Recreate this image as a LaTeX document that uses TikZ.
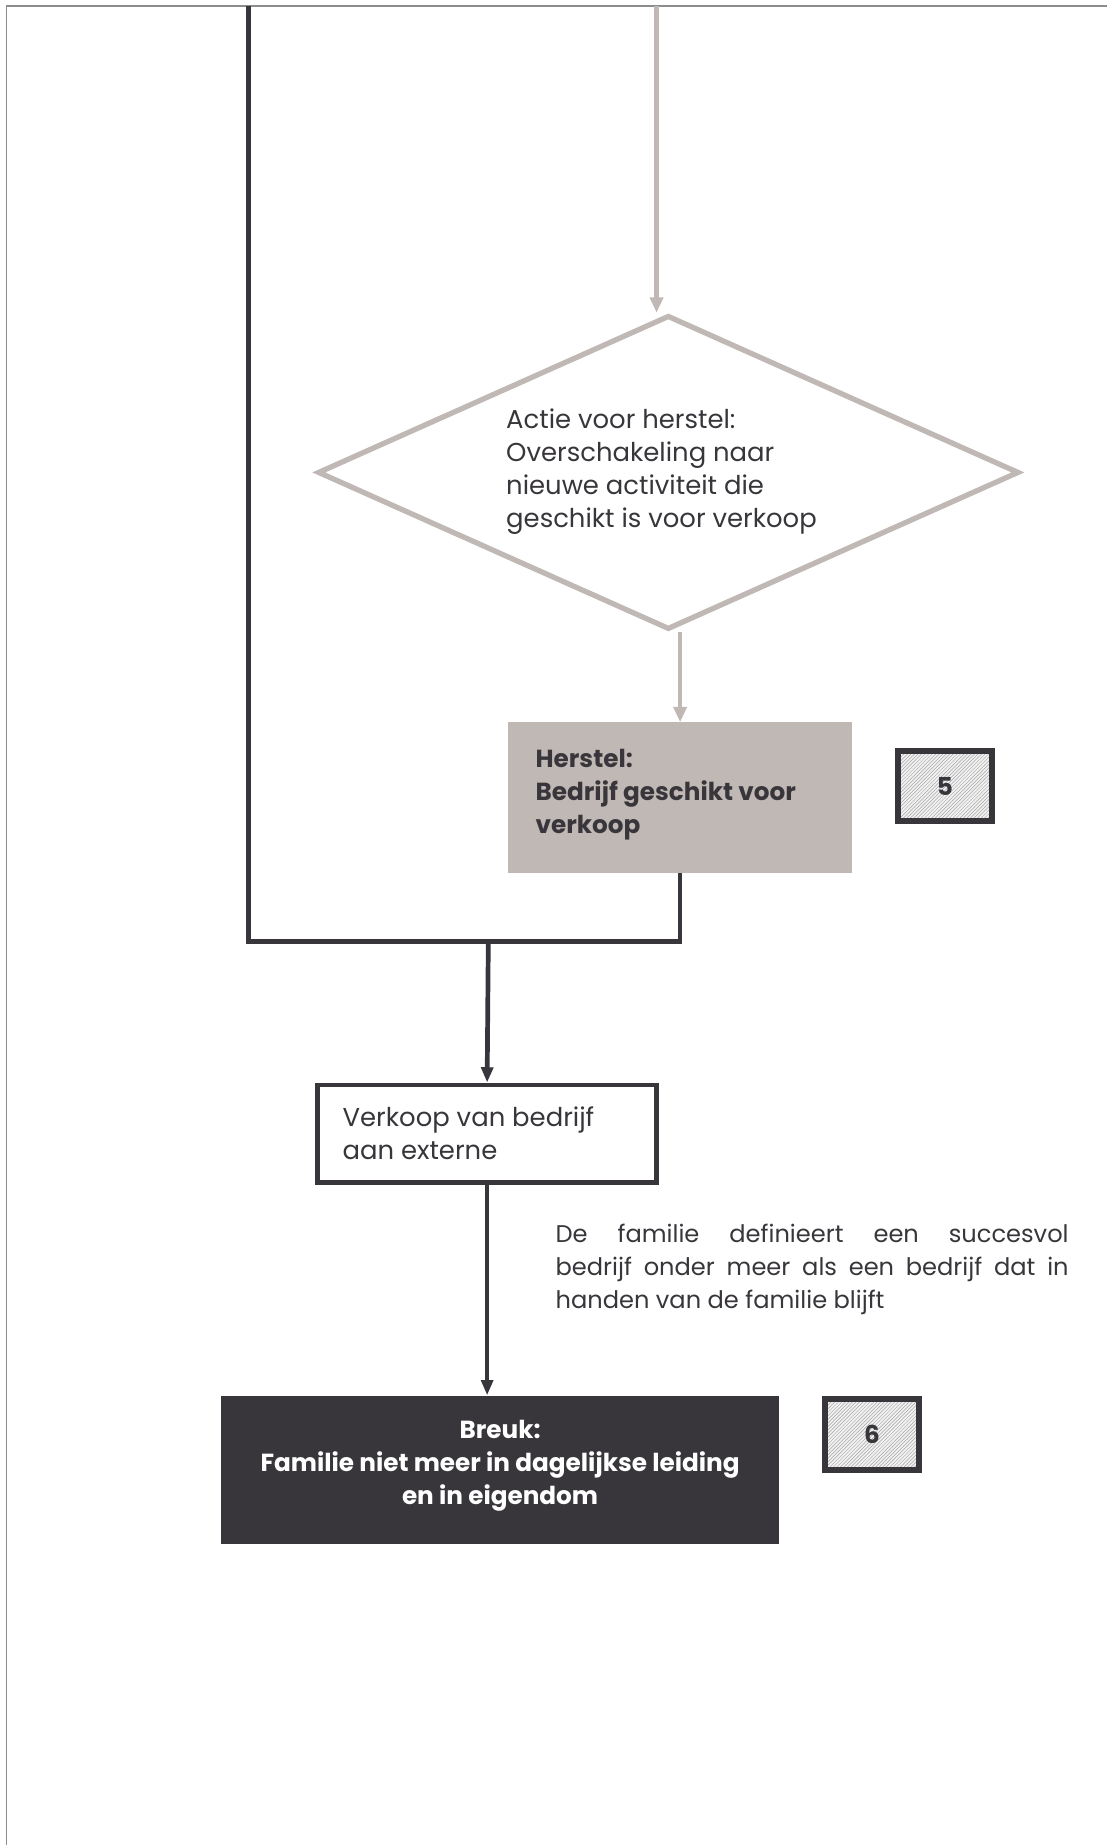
\documentclass[tikz,border=0pt]{standalone}
\usepackage{fontspec}
\setmainfont{Poppins}
\usetikzlibrary{shapes.geometric,arrows.meta,patterns,calc}
\definecolor{ink}{HTML}{38363B}
\definecolor{rose}{HTML}{C0B8B5}
\definecolor{framegrey}{HTML}{8C8C8C}

\begin{document}
\begin{tikzpicture}[x=1pt,y=-1pt,
  txt/.style={font=\fontsize{22}{28}\selectfont, text=ink, inner sep=0pt},
  boldtxt/.style={font=\fontsize{21}{28}\selectfont\bfseries, inner sep=0pt},
  darkline/.style={draw=ink, line width=4pt},
  greyline/.style={draw=rose, line width=4pt},
  darkarrow/.style={darkline, -{Triangle[length=13pt,width=10pt]}},
  greyarrow/.style={greyline, -{Triangle[length=13pt,width=11pt]}},
  decision/.style={diamond, aspect=2.232, draw=rose, line width=4.5pt, inner sep=0pt,
    minimum width=596pt, minimum height=267pt},
  restorebox/.style={rectangle, fill=rose, inner sep=0pt,
    minimum width=292pt, minimum height=128pt},
  salebox/.style={rectangle, draw=ink, line width=4pt, fill=white, inner sep=0pt,
    minimum width=288pt, minimum height=83pt},
  breakbox/.style={rectangle, fill=ink, inner sep=0pt,
    minimum width=474pt, minimum height=126pt},
  numbox/.style={rectangle, draw=ink, line width=5pt, inner sep=0pt,
    preaction={fill=gray!10}, pattern=north east lines, pattern color=gray!70,
    minimum width=80pt, minimum height=60pt, boldtxt, text=ink}
]
\useasboundingbox (0,0) rectangle (940,1568);

% page frame
\draw[framegrey, line width=1.5pt] (5.5,1570) -- (5.5,5) -- (945,5);

% coordinates where the incoming lines start
\coordinate (darktop) at (211,5);
\coordinate (greytop) at (558,5);
\coordinate (join) at (415,800);

% shapes
\node[decision] (dia) at (568,401.5) {};
\node[restorebox] (herstel) at (578,678) {};
\node[numbox] (n5) at (803,668) {5};
\node[salebox] (verkoop) at (414,963.5) {};
\node[breakbox] (breuk) at (425,1249) {};
\node[numbox] (n6) at (741,1219) {6};

% texts
\node[txt, align=left, anchor=west] (diaTxt) at (430,401) {Actie voor herstel:\\Overschakeling naar\\nieuwe activiteit die\\geschikt is voor verkoop};
\node[boldtxt, text=ink, align=left, anchor=west] (herstelTxt) at (455,675) {Herstel:\\Bedrijf geschikt voor\\verkoop};
\node[txt, align=left, anchor=west] (verkoopTxt) at (291,963) {Verkoop van bedrijf\\aan externe};
\node[txt, font=\fontsize{20.5}{28}\selectfont, text width=436pt, align=justify, anchor=west] (note) at (472,1079) {De familie definieert een succesvol\linebreak bedrijf onder meer als een bedrijf dat in\linebreak handen van de familie blijft};
\node[boldtxt, text=white, align=center] (breukTxt) at (425,1246) {Breuk:\\Familie niet meer in dagelijkse leiding\\en in eigendom};

% connectors
\draw[greyarrow] (greytop) -- (greytop |- dia.north);
\draw[greyarrow] (herstel.north |- dia.south) -- (herstel.north);
\draw[darkline, line join=miter] (darktop) -- (darktop |- join) -- (herstel.south |- join) -- (herstel.south);
\draw[darkarrow] (join) -- (verkoop.north);
\draw[darkarrow] (verkoop.south) -- (verkoop.south |- breuk.north);
\end{tikzpicture}
\end{document}
